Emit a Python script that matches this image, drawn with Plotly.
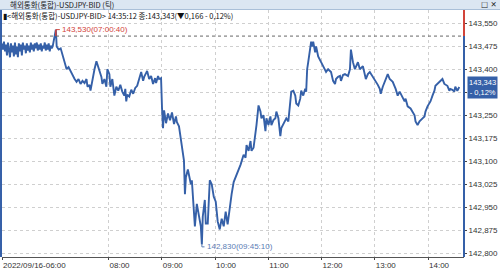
import pandas as pd
import plotly.graph_objects as go

# ---------------- data ----------------
session_start = "2022-09-16 06:00:00"
elapsed_min = [
    0.0, 1.1, 2.2, 3.4, 4.5, 5.6, 6.7, 7.8, 9.0, 10.1, 11.2, 12.3, 13.4, 14.6, 15.7, 16.8, 17.9, 19.0,
    20.2, 21.3, 22.4, 23.5, 24.6, 25.8, 26.9, 28.0, 29.1, 30.2, 31.4, 32.5, 33.6, 34.7, 35.8, 37.0,
    38.1, 39.2, 40.3, 41.4, 42.6, 43.7, 44.8, 45.9, 47.0, 48.2, 49.3, 50.4, 51.5, 52.6, 53.8, 54.9,
    56.0, 57.1, 60.67, 61.6, 63.8, 66.1, 68.3, 70.6, 72.8, 75.0, 77.3, 79.5, 81.8, 84.0, 86.2, 88.5,
    90.7, 93.0, 95.2, 96.3, 98.6, 99.7, 101.9, 104.2, 106.4, 108.6, 109.8, 112.0, 113.1, 115.4, 117.6,
    118.7, 121.0, 122.1, 124.3, 126.6, 128.8, 131.0, 133.3, 135.5, 137.8, 138.9, 140.0, 141.1, 143.4,
    145.6, 147.8, 150.1, 152.3, 154.6, 156.8, 159.0, 160.2, 162.4, 163.5, 165.8, 168.0, 170.2, 172.5,
    173.6, 175.8, 177.0, 179.2, 180.3, 181.4, 182.6, 184.8, 187.0, 189.3, 191.5, 193.8, 196.0, 197.1,
    199.4, 201.6, 202.7, 205.0, 206.1, 207.2, 209.4, 210.6, 212.8, 213.9, 216.2, 217.3, 219.5, 221.8,
    224.0, 225.17, 226.2, 228.5, 229.6, 231.8, 234.1, 236.3, 238.6, 240.8, 243.0, 245.3, 247.5, 249.8,
    252.0, 254.2, 256.5, 258.7, 261.0, 263.2, 266.6, 268.8, 272.2, 274.4, 275.5, 277.8, 280.0, 281.1,
    283.4, 285.6, 286.7, 289.0, 291.2, 292.3, 294.6, 296.8, 297.9, 300.2, 302.4, 303.5, 305.8, 308.0,
    309.1, 311.4, 313.6, 314.7, 317.0, 319.2, 320.3, 322.6, 324.8, 325.9, 328.2, 330.4, 331.5, 333.8,
    336.0, 337.1, 339.4, 341.6, 342.7, 343.8, 345.0, 347.2, 348.3, 349.4, 350.6, 352.8, 353.9, 356.2,
    358.4, 359.5, 361.8, 364.0, 365.1, 367.4, 370.7, 373.0, 375.2, 376.3, 378.6, 380.8, 381.9, 384.2,
    386.4, 389.8, 392.0, 393.1, 395.4, 397.6, 401.0, 403.2, 406.6, 409.9, 412.2, 414.4, 417.8, 421.1,
    423.4, 425.6, 426.7, 429.0, 431.2, 434.6, 436.8, 440.2, 443.5, 445.8, 448.0, 451.4, 453.6, 454.7,
    457.0, 460.3, 462.6, 464.8, 465.9, 468.2, 470.4, 471.5, 473.8, 476.0, 477.1, 479.4, 482.7, 485.0,
    487.2, 488.3, 490.6, 492.8, 496.2, 498.4, 501.8, 504.0, 505.1, 507.4, 509.6, 510.7, 513.0, 515.2,
]
price = [
    143.485, 143.465, 143.491, 143.459, 143.481, 143.446, 143.488, 143.465, 143.440, 143.485, 143.456,
    143.478, 143.443, 143.488, 143.449, 143.475, 143.440, 143.485, 143.459, 143.481, 143.446, 143.488,
    143.465, 143.478, 143.453, 143.485, 143.462, 143.478, 143.456, 143.488, 143.465, 143.481, 143.459,
    143.485, 143.469, 143.488, 143.462, 143.481, 143.465, 143.485, 143.459, 143.478, 143.469, 143.488,
    143.462, 143.481, 143.465, 143.485, 143.459, 143.478, 143.469, 143.475, 143.530, 143.475, 143.465,
    143.469, 143.449, 143.424, 143.401, 143.408, 143.395, 143.379, 143.369, 143.360, 143.369, 143.353,
    143.363, 143.356, 143.369, 143.344, 143.350, 143.331, 143.369, 143.401, 143.427, 143.408, 143.395,
    143.376, 143.353, 143.369, 143.344, 143.401, 143.385, 143.344, 143.369, 143.315, 143.344, 143.331,
    143.350, 143.328, 143.315, 143.337, 143.296, 143.318, 143.312, 143.334, 143.321, 143.340, 143.347,
    143.369, 143.392, 143.363, 143.376, 143.389, 143.395, 143.369, 143.379, 143.353, 143.372, 143.356,
    143.379, 143.369, 143.372, 143.273, 143.209, 143.267, 143.225, 143.257, 143.235, 143.260, 143.222,
    143.247, 143.228, 143.215, 143.167, 143.135, 143.103, 142.994, 143.049, 143.074, 143.055, 143.026,
    143.039, 142.953, 142.889, 142.962, 142.921, 142.889, 142.830, 142.921, 142.975, 142.898, 142.898,
    143.039, 143.026, 142.985, 142.969, 142.905, 142.879, 142.914, 142.889, 142.937, 142.895, 142.953,
    142.994, 143.033, 143.049, 143.071, 143.090, 143.122, 143.113, 143.154, 143.135, 143.167, 143.135,
    143.145, 143.187, 143.219, 143.283, 143.263, 143.241, 143.251, 143.199, 143.241, 143.219, 143.247,
    143.219, 143.235, 143.241, 143.263, 143.241, 143.183, 143.209, 143.222, 143.231, 143.241, 143.231,
    143.315, 143.328, 143.331, 143.315, 143.289, 143.283, 143.305, 143.331, 143.315, 143.337, 143.328,
    143.401, 143.424, 143.465, 143.491, 143.475, 143.491, 143.456, 143.475, 143.443, 143.433, 143.424,
    143.411, 143.401, 143.392, 143.401, 143.392, 143.363, 143.353, 143.369, 143.376, 143.379, 143.363,
    143.382, 143.385, 143.379, 143.401, 143.465, 143.424, 143.401, 143.424, 143.401, 143.411, 143.369,
    143.385, 143.392, 143.376, 143.363, 143.350, 143.337, 143.321, 143.344, 143.363, 143.385, 143.369,
    143.360, 143.337, 143.315, 143.328, 143.305, 143.296, 143.305, 143.280, 143.273, 143.260, 143.251,
    143.231, 143.219, 143.231, 143.235, 143.241, 143.247, 143.263, 143.280, 143.296, 143.315, 143.331,
    143.347, 143.353, 143.360, 143.369, 143.353, 143.347, 143.331, 143.337, 143.334, 143.328, 143.344,
    143.331, 143.343,
]

prev_close = 143.509
high_price, high_time = 143.530, "2022-09-16 07:00:40"
low_price, low_time = 142.830, "2022-09-16 09:45:10"
last_price, last_change_pct = 143.343, "- 0,12%"

x_tick_vals = ["2022-09-16 06:00", "2022-09-16 08:00", "2022-09-16 09:00", "2022-09-16 10:00",
               "2022-09-16 11:00", "2022-09-16 12:00", "2022-09-16 13:00", "2022-09-16 14:00"]
x_tick_text = ["2022/09/16-06:00", "08:00", "09:00", "10:00", "11:00", "12:00", "13:00", "14:00"]
y_tick_vals = [142.800, 142.875, 142.950, 143.025, 143.100, 143.175, 143.250, 143.325,
               143.400, 143.475, 143.550]
# 143,325 sits under the last-price box in the reference, so its label is hidden
y_tick_text = ["142,800", "142,875", "142,950", "143,025", "143,100", "143,175", "143,250",
               "", "143,400", "143,475", "143,550"]

title_text = "해외통화(통합)-USDJPY-BID (틱)"
info_text = "▮<해외통화(통합)-USDJPY-BID> 14:35:12 종:143,343(▼0,166 - 0,12%)"

# ---------------- figure ----------------
t0 = pd.Timestamp(session_start)
times = [t0 + pd.Timedelta(minutes=m) for m in elapsed_min]

BLUE = "#3560a8"
RED = "#d2443a"
NUM_FONT = "Liberation Sans Narrow, Liberation Sans, Arial"
KR_FONT = "Noto Sans CJK KR, Noto Sans"

fig = go.Figure()
fig.add_trace(go.Scatter(x=times, y=price, mode="lines",
                         line=dict(color=BLUE, width=1.9), hoverinfo="skip", showlegend=False))

x_end = t0 + pd.Timedelta(minutes=520.5)
fig.update_layout(
    width=500, height=272,
    margin=dict(l=2, r=33, t=10, b=11),
    paper_bgcolor="white", plot_bgcolor="white",
    showlegend=False,
    xaxis=dict(type="date", range=[t0, x_end], tickvals=x_tick_vals, ticktext=x_tick_text,
               ticklabelposition="outside right", tickfont=dict(family=NUM_FONT, size=8, color="#333"),
               ticks="outside", ticklen=2, tickcolor="#444",
               showgrid=True, gridcolor="#cfcfcf", griddash="dot", gridwidth=1,
               showline=True, linecolor="#555", linewidth=1, zeroline=False),
    yaxis=dict(side="right", range=[142.789, 143.594], tickvals=y_tick_vals, ticktext=y_tick_text,
               tickfont=dict(family=NUM_FONT, size=8, color="#333"),
               ticks="outside", ticklen=2, tickcolor="#444",
               showgrid=True, gridcolor="#cfcfcf", griddash="dot", gridwidth=1,
               showline=False, zeroline=False),
)

# previous close dashed line
fig.add_hline(y=prev_close, line=dict(color="#666", width=1, dash="dot"))
# coloured right axis
fig.add_shape(type="line", xref="paper", yref="y", x0=1, x1=1, y0=prev_close, y1=143.594,
              line=dict(color=RED, width=2))
fig.add_shape(type="line", xref="paper", yref="y", x0=1, x1=1, y0=142.789, y1=prev_close,
              line=dict(color=BLUE, width=2))
# left window border
fig.add_shape(type="rect", xref="paper", yref="paper", x0=-0.0043, x1=0, y0=0, y1=1.04,
              line=dict(width=0), fillcolor=BLUE)

# title bar
fig.add_shape(type="rect", xref="paper", yref="paper", x0=-0.01, x1=1.08, y0=1.002, y1=1.05,
              line=dict(width=0), fillcolor="#dbe6f2")
fig.add_shape(type="line", xref="paper", yref="paper", x0=-0.01, x1=1.08, y0=1.002, y1=1.002,
              line=dict(color="#a9bfd8", width=1))
fig.add_annotation(xref="paper", yref="paper", x=0.012, y=1.022, text=title_text, showarrow=False,
                   xanchor="left", yanchor="middle", font=dict(family=KR_FONT, size=7.5, color="#222"))
fig.add_annotation(xref="paper", yref="paper", x=1.055, y=1.022, text="□ ✕", showarrow=False,
                   xanchor="center", yanchor="middle", font=dict(family="DejaVu Sans", size=7.5, color="#222"))
fig.add_annotation(xref="paper", yref="paper", x=-0.003, y=0.976, text=info_text, showarrow=False,
                   xanchor="left", yanchor="middle", font=dict(family=KR_FONT, size=7.5, color="#111"))

# high marker
hi_t = pd.Timestamp(high_time)
fig.add_shape(type="line", x0=hi_t, x1=hi_t, y0=prev_close, y1=high_price, line=dict(color=RED, width=1.5))
fig.add_shape(type="line", x0=hi_t, x1=hi_t + pd.Timedelta(minutes=4.5), y0=high_price, y1=high_price,
              line=dict(color=RED, width=1))
fig.add_annotation(x=hi_t + pd.Timedelta(minutes=4.5), y=high_price, text="143,530(07:00:40)",
                   showarrow=False, xanchor="left", yanchor="middle",
                   font=dict(family=NUM_FONT, size=8, color=RED))

# low marker
lo_t = pd.Timestamp(low_time)
fig.add_shape(type="line", x0=lo_t, x1=lo_t, y0=low_price, y1=low_price - 0.008,
              line=dict(color="#5b7db5", width=1))
fig.add_shape(type="line", x0=lo_t, x1=lo_t + pd.Timedelta(minutes=3), y0=low_price - 0.008,
              y1=low_price - 0.008, line=dict(color="#5b7db5", width=1))
fig.add_annotation(x=lo_t + pd.Timedelta(minutes=3), y=low_price - 0.008, text="142,830(09:45:10)",
                   showarrow=False, xanchor="left", yanchor="middle",
                   font=dict(family=NUM_FONT, size=8, color="#5b7db5"))

# last price box
fig.add_annotation(xref="paper", yref="y", x=1, y=last_price, xshift=3,
                   text=f"{last_price:.3f}".replace(".", ",") + "<br>" + last_change_pct,
                   showarrow=False, xanchor="left", yanchor="middle", align="center",
                   bgcolor=BLUE, borderpad=1, font=dict(family=NUM_FONT, size=7.5, color="white"))

fig.write_html("out.html")
